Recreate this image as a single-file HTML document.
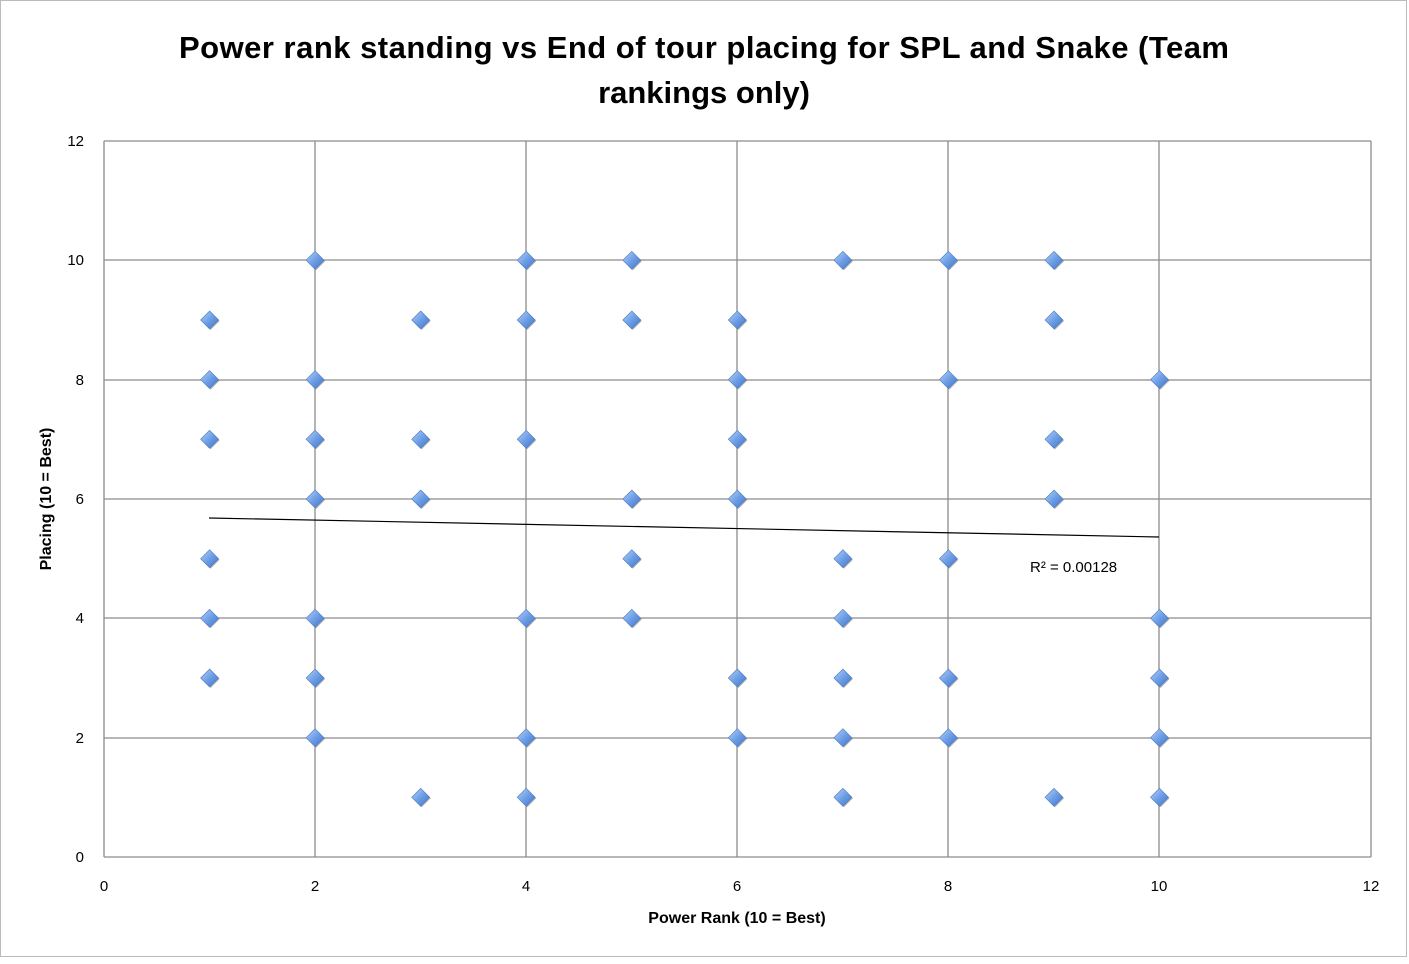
<!DOCTYPE html>
<html><head><style>body{margin:0;background:#fff}</style></head><body>
<svg width="1409" height="959" xmlns="http://www.w3.org/2000/svg" xmlns:xlink="http://www.w3.org/1999/xlink" font-family="Liberation Sans, sans-serif">
<defs>
<linearGradient id="g" x1="0" y1="0" x2="1" y2="1">
<stop offset="0" stop-color="#b9d3f5"/><stop offset="0.5" stop-color="#6d9ee6"/><stop offset="1" stop-color="#3f74c8"/>
</linearGradient>
<g id="d"><path d="M1,-8 L10,1 L1,10 L-8,1Z" fill="#555" opacity="0.45"/><path d="M0,-9 L9,0 L0,9 L-9,0Z" fill="url(#g)" stroke="#4a78c0" stroke-width="0.6"/></g>
</defs>
<rect x="0.5" y="0.5" width="1406" height="956" fill="#fff" stroke="#bbb"/>
<text x="704" y="58" font-size="31" font-weight="bold" text-anchor="middle" textLength="1050">Power rank standing vs End of tour placing for SPL and Snake (Team</text>
<text x="704" y="103" font-size="31" font-weight="bold" text-anchor="middle">rankings only)</text>
<g stroke="#8c8c8c" stroke-width="1.3">
<line x1="104" y1="141" x2="1371" y2="141"/><line x1="104" y1="260" x2="1371" y2="260"/><line x1="104" y1="380" x2="1371" y2="380"/><line x1="104" y1="499" x2="1371" y2="499"/><line x1="104" y1="618" x2="1371" y2="618"/><line x1="104" y1="738" x2="1371" y2="738"/>
<line x1="315" y1="141" x2="315" y2="857"/><line x1="526" y1="141" x2="526" y2="857"/><line x1="737" y1="141" x2="737" y2="857"/><line x1="948" y1="141" x2="948" y2="857"/><line x1="1159" y1="141" x2="1159" y2="857"/><line x1="1371" y1="141" x2="1371" y2="857"/>
<line x1="104" y1="141" x2="104" y2="857"/><line x1="104" y1="857" x2="1371" y2="857"/>
</g>
<g font-size="15" text-anchor="end">
<text x="84" y="146">12</text><text x="84" y="265">10</text><text x="84" y="385">8</text><text x="84" y="504">6</text><text x="84" y="623">4</text><text x="84" y="743">2</text><text x="84" y="862">0</text>
</g>
<g font-size="15" text-anchor="middle">
<text x="104" y="891">0</text><text x="315" y="891">2</text><text x="526" y="891">4</text><text x="737" y="891">6</text><text x="948" y="891">8</text><text x="1159" y="891">10</text><text x="1371" y="891">12</text>
</g>
<text x="737" y="923" font-size="16" font-weight="bold" text-anchor="middle">Power Rank (10 = Best)</text>
<text transform="translate(51,499) rotate(-90)" font-size="16" font-weight="bold" text-anchor="middle">Placing (10 = Best)</text>
<line x1="209" y1="518" x2="1159" y2="537" stroke="#000" stroke-width="1.2"/>
<text x="1030" y="572" font-size="15">R² = 0.00128</text>
<g>
<use xlink:href="#d" x="209.6" y="320"/><use xlink:href="#d" x="209.6" y="379.6"/><use xlink:href="#d" x="209.6" y="439.3"/><use xlink:href="#d" x="209.6" y="558.7"/><use xlink:href="#d" x="209.6" y="618.3"/><use xlink:href="#d" x="209.6" y="678"/>
<use xlink:href="#d" x="315.1" y="260.3"/><use xlink:href="#d" x="315.1" y="379.6"/><use xlink:href="#d" x="315.1" y="439.3"/><use xlink:href="#d" x="315.1" y="499"/><use xlink:href="#d" x="315.1" y="618.3"/><use xlink:href="#d" x="315.1" y="678"/><use xlink:href="#d" x="315.1" y="737.7"/>
<use xlink:href="#d" x="420.7" y="320"/><use xlink:href="#d" x="420.7" y="439.3"/><use xlink:href="#d" x="420.7" y="499"/><use xlink:href="#d" x="420.7" y="797.3"/>
<use xlink:href="#d" x="526.2" y="260.3"/><use xlink:href="#d" x="526.2" y="320"/><use xlink:href="#d" x="526.2" y="439.3"/><use xlink:href="#d" x="526.2" y="618.3"/><use xlink:href="#d" x="526.2" y="737.7"/><use xlink:href="#d" x="526.2" y="797.3"/>
<use xlink:href="#d" x="631.8" y="260.3"/><use xlink:href="#d" x="631.8" y="320"/><use xlink:href="#d" x="631.8" y="499"/><use xlink:href="#d" x="631.8" y="558.7"/><use xlink:href="#d" x="631.8" y="618.3"/>
<use xlink:href="#d" x="737.3" y="320"/><use xlink:href="#d" x="737.3" y="379.6"/><use xlink:href="#d" x="737.3" y="439.3"/><use xlink:href="#d" x="737.3" y="499"/><use xlink:href="#d" x="737.3" y="678"/><use xlink:href="#d" x="737.3" y="737.7"/>
<use xlink:href="#d" x="842.9" y="260.3"/><use xlink:href="#d" x="842.9" y="558.7"/><use xlink:href="#d" x="842.9" y="618.3"/><use xlink:href="#d" x="842.9" y="678"/><use xlink:href="#d" x="842.9" y="737.7"/><use xlink:href="#d" x="842.9" y="797.3"/>
<use xlink:href="#d" x="948.4" y="260.3"/><use xlink:href="#d" x="948.4" y="379.6"/><use xlink:href="#d" x="948.4" y="558.7"/><use xlink:href="#d" x="948.4" y="678"/><use xlink:href="#d" x="948.4" y="737.7"/>
<use xlink:href="#d" x="1054" y="260.3"/><use xlink:href="#d" x="1054" y="320"/><use xlink:href="#d" x="1054" y="439.3"/><use xlink:href="#d" x="1054" y="499"/><use xlink:href="#d" x="1054" y="797.3"/>
<use xlink:href="#d" x="1159.5" y="379.6"/><use xlink:href="#d" x="1159.5" y="618.3"/><use xlink:href="#d" x="1159.5" y="678"/><use xlink:href="#d" x="1159.5" y="737.7"/><use xlink:href="#d" x="1159.5" y="797.3"/>
</g>
</svg>
</body></html>
